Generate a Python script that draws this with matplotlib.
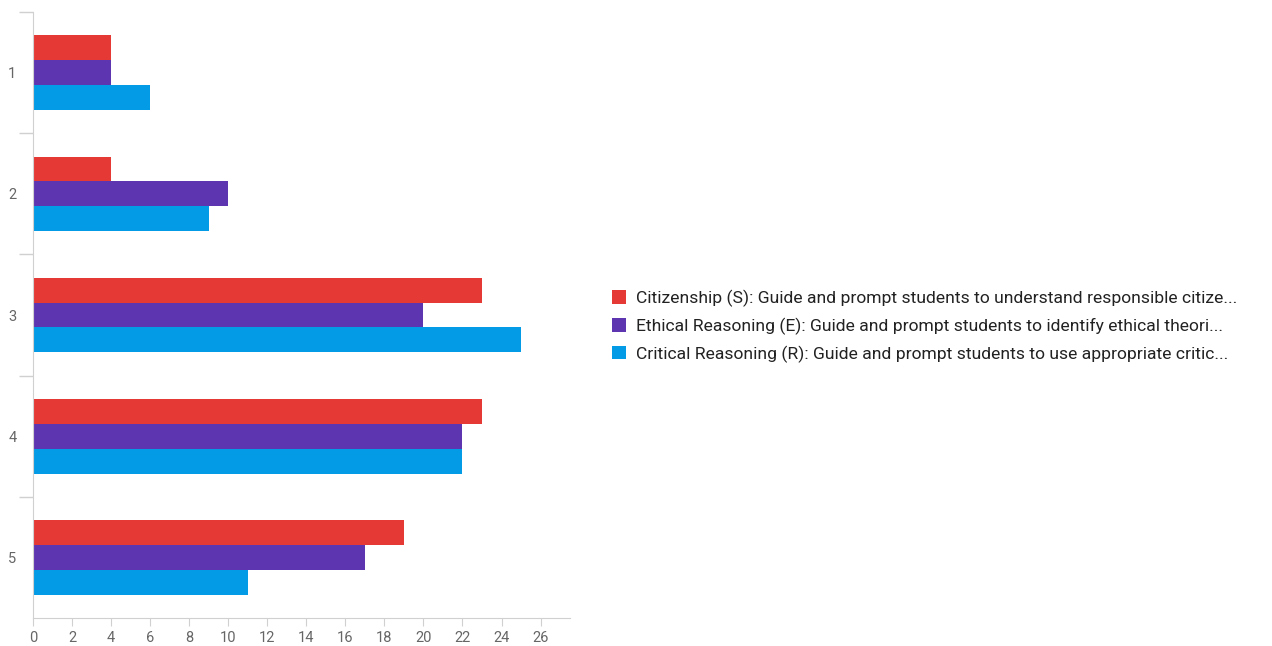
import matplotlib.pyplot as plt
import numpy as np

categories = ['1', '2', '3', '4', '5']
series = [
    'Citizenship (S): Guide and prompt students to understand responsible citize...',
    'Ethical Reasoning (E): Guide and prompt students to identify ethical theori...',
    'Critical Reasoning (R): Guide and prompt students to use appropriate critic...',
]
citizenship = [4, 4, 23, 23, 19]
ethical = [4, 10, 20, 22, 17]
critical = [6, 9, 25, 22, 11]
colors = ['#E53935', '#5E35B1', '#039BE5']

plt.rcParams['font.family'] = ['Roboto', 'DejaVu Sans']

fig = plt.figure(figsize=(12.72, 6.46), dpi=100)
ax = fig.add_axes([0.026, 0.0433, 0.422, 0.938])

y = np.arange(len(categories))
h = 0.205
for i, vals in enumerate([citizenship, ethical, critical]):
    ax.barh(y + (i - 1) * h, vals, height=h, color=colors[i], label=series[i])

ax.set_xlim(0, 27.5)
ax.set_ylim(4.5, -0.5)
ax.set_xticks(np.arange(0, 27, 2))
ax.set_yticks(y)
ax.set_yticklabels(categories)
ax.set_yticks(np.arange(-0.5, 4, 1), minor=True)
ax.tick_params(axis='y', which='major', length=0, pad=12, labelsize=10.5, labelcolor='#666666')
ax.tick_params(axis='y', which='minor', length=10, color='#d0d0d0', width=1)
ax.tick_params(axis='x', length=6, color='#d0d0d0', labelsize=10.5, labelcolor='#666666')
for s in ['top', 'right']:
    ax.spines[s].set_visible(False)
for s in ['left', 'bottom']:
    ax.spines[s].set_color('#d0d0d0')

fig.legend(loc='center left', bbox_to_anchor=(0.4685, 0.495), frameon=False,
           fontsize=12.6, handlelength=0.8, handleheight=0.8, handletextpad=0.6,
           labelspacing=0.6, labelcolor='#222222')

fig.savefig('out.png', dpi=100)
